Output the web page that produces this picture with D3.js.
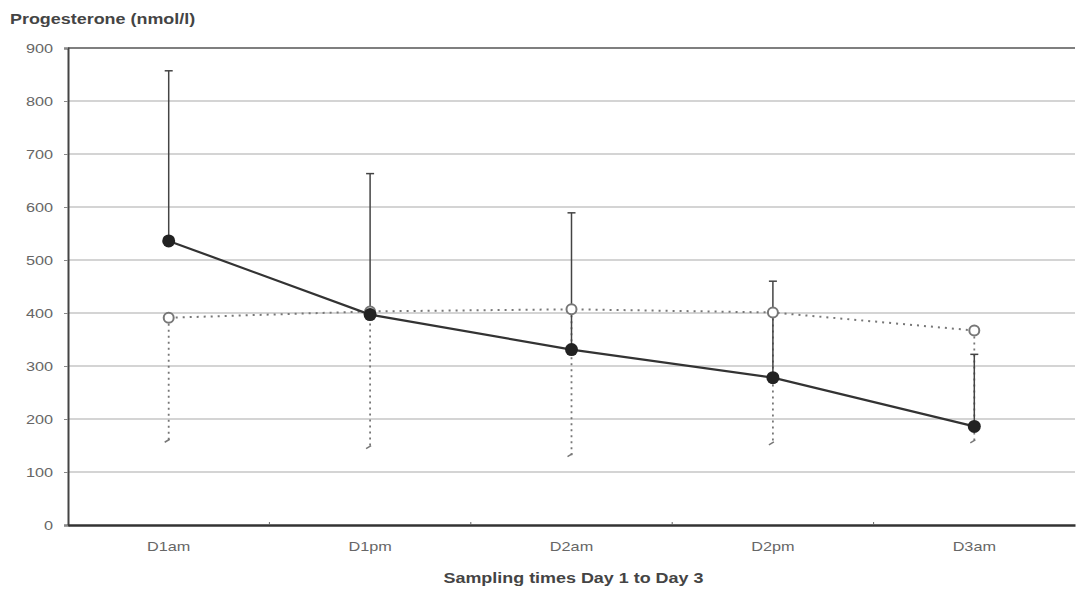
<!DOCTYPE html>
<html>
<head>
<meta charset="utf-8">
<script src="https://cdn.jsdelivr.net/npm/d3@7"></script>
<style>
body{margin:0;background:#fff;}
text{font-family:Arial,"Liberation Sans",sans-serif;}
</style>
</head>
<body>
<div id="chart"></div>
<script>
// sampling times
let categories = ['D1am', 'D1pm', 'D2am', 'D2pm', 'D3am'];
// filled series (solid line) and its upper error ends
let solid_values = [536, 397, 331, 278, 186];
let solid_upper = [857, 663, 589, 460, 322];
// open series (dotted line) and its lower error ends
let dotted_values = [391, 403, 407, 401, 367];
let dotted_lower = [158, 146, 131, 153, 157];
let y_ticks = [0, 100, 200, 300, 400, 500, 600, 700, 800, 900];

let W = 1076, H = 592,
mleft = 68, mright = 1075, mtop = 48, mbottom = 525;

let svg = d3.select('#chart').append('svg').attr('width', W).attr('height', H);

let x = d3.scaleBand().domain(categories).range([mleft, mright]),
y = d3.scaleLinear().domain([0, 900]).range([mbottom, mtop]);
let cx = d => x(d) + x.bandwidth() / 2;

//the scanned text is wider than normal, stretch it horizontally
function stretch(sel, k){
	sel.each(function(){
		let len = this.getComputedTextLength();
		d3.select(this).attr('textLength', len * k).attr('lengthAdjust', 'spacingAndGlyphs');
	});
}

//grid lines
svg.append('g').selectAll('line').data(y_ticks.slice(1, -1)).enter().append('line')
.attr('x1', mleft).attr('x2', mright)
.attr('y1', d => y(d)).attr('y2', d => y(d))
.style('stroke', '#aaa').style('stroke-width', 1.2);

//frame top
svg.append('line').attr('x1', mleft).attr('x2', mright).attr('y1', y(900)).attr('y2', y(900))
.style('stroke', '#555').style('stroke-width', 1.5);

//y axis
let yAxis = svg.append('g').attr('transform', `translate(${mleft},0)`)
.call(d3.axisLeft(y).tickValues(y_ticks).tickSize(4).tickPadding(11));
yAxis.select('.domain').style('stroke', '#444').style('stroke-width', 2);
yAxis.selectAll('.tick line').style('stroke', '#888');
yAxis.selectAll('text').style('font-size', '13px').style('fill', '#666');
stretch(yAxis.selectAll('text'), 1.25);

//x axis
let xAxis = svg.append('g').attr('transform', `translate(0,${mbottom})`)
.call(d3.axisBottom(x).tickSize(0).tickPadding(17));
xAxis.select('.domain').style('stroke', '#333').style('stroke-width', 2.5);
xAxis.selectAll('text').style('font-size', '13px').style('fill', '#666');
stretch(xAxis.selectAll('text'), 1.25);
//small ticks between categories
svg.append('g').selectAll('line').data(categories.slice(1)).enter().append('line')
.attr('x1', d => x(d)).attr('x2', d => x(d))
.attr('y1', mbottom).attr('y2', mbottom - 3)
.style('stroke', '#666');

//dotted error bars (downwards)
let dotted_err = svg.append('g');
dotted_err.selectAll('line').data(categories).enter().append('line')
.attr('x1', d => cx(d)).attr('x2', d => cx(d))
.attr('y1', (d, i) => y(dotted_values[i])).attr('y2', (d, i) => y(dotted_lower[i]))
.style('stroke', '#777').style('stroke-width', 1.8).style('stroke-dasharray', '2,4');
dotted_err.selectAll('path').data(categories).enter().append('path')
.attr('d', (d, i) => `M${cx(d) - 4},${y(dotted_lower[i]) + 1}L${cx(d) + 1},${y(dotted_lower[i]) - 2}`)
.style('stroke', '#777').style('stroke-width', 1.5).style('fill', 'none');

//solid error bars (upwards)
let solid_err = svg.append('g');
solid_err.selectAll('line.v').data(categories).enter().append('line').attr('class', 'v')
.attr('x1', d => cx(d)).attr('x2', d => cx(d))
.attr('y1', (d, i) => y(solid_values[i])).attr('y2', (d, i) => y(solid_upper[i]))
.style('stroke', '#444').style('stroke-width', 1.5);
solid_err.selectAll('line.c').data(categories).enter().append('line').attr('class', 'c')
.attr('x1', d => cx(d) - 4).attr('x2', d => cx(d) + 4)
.attr('y1', (d, i) => y(solid_upper[i])).attr('y2', (d, i) => y(solid_upper[i]))
.style('stroke', '#444').style('stroke-width', 1.5);

//dotted line
let line = d3.line().x((d, i) => cx(categories[i])).y(d => y(d));
svg.append('path').datum(dotted_values).attr('d', line)
.style('fill', 'none').style('stroke', '#777').style('stroke-width', 2).style('stroke-dasharray', '2,5');

//solid line
svg.append('path').datum(solid_values).attr('d', line)
.style('fill', 'none').style('stroke', '#333').style('stroke-width', 2.2);

//open markers
svg.append('g').selectAll('circle').data(dotted_values).enter().append('circle')
.attr('cx', (d, i) => cx(categories[i])).attr('cy', d => y(d)).attr('r', 5)
.style('fill', '#fff').style('stroke', '#777').style('stroke-width', 2);

//filled markers
svg.append('g').selectAll('circle').data(solid_values).enter().append('circle')
.attr('cx', (d, i) => cx(categories[i])).attr('cy', d => y(d)).attr('r', 6.5)
.style('fill', '#222');

//titles
let ytitle = svg.append('text').attr('x', 10).attr('y', 24)
.text('Progesterone (nmol/l)')
.style('font-size', '14px').style('font-weight', 'bold').style('fill', '#444');
stretch(ytitle, 1.28);
let xtitle = svg.append('text').attr('x', (mleft + mright) / 2 + 2).attr('y', 583)
.attr('text-anchor', 'middle')
.text('Sampling times Day 1 to Day 3')
.style('font-size', '14px').style('font-weight', 'bold').style('fill', '#444');
stretch(xtitle, 1.28);
</script>
</body>
</html>
